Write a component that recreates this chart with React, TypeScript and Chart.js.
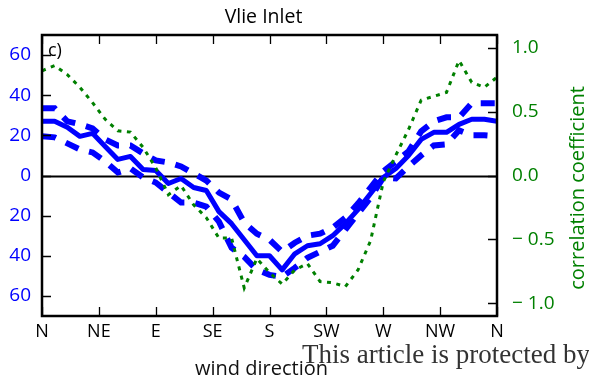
import React, { useEffect, useRef } from "react";
import { Chart, registerables } from "chart.js";

Chart.register(...registerables);

// Wind direction in degrees (N = 0 / 360), one sample every 10 degrees
const directionDeg = [
  0, 10, 20, 30, 40, 50, 60, 70, 80, 90, 100, 110, 120, 130, 140, 150, 160, 170, 180,
  190, 200, 210, 220, 230, 240, 250, 260, 270, 280, 290, 300, 310, 320, 330, 340, 350, 360,
];

// Compass labels for the bottom axis, one every 45 degrees
const compassLabels = ["N", "NE", "E", "SE", "S", "SW", "W", "NW", "N"];

// Response (left axis) – central estimate
const responseMean = [
  27, 27, 24, 19.5, 21, 14.5, 8, 9.5, 3, 2.5, -4, -1.5, -6, -7.5, -18, -24, -32, -40, -40,
  -47, -39, -35, -34, -30, -24, -17, -9, -1, 3.5, 10, 18, 21.5, 21.5, 25.5, 28, 28, 27,
];

// Response – upper bound
const responseUpper = [
  33.5, 33.5, 27, 25.5, 23.5, 18, 15, 15, 11, 7.5, 6.5, 4.5, 1, -2.5, -8.5, -12, -23.5, -29, -32,
  -38, -33.5, -30, -29, -26, -21, -14, -6, 2, 7, 12, 22, 27, 29, 29, 36, 36, 36,
];

// Response – lower bound
const responseLower = [
  19.5, 19, 16, 13, 11.5, 7, 1.5, 3.5, -1, -3.5, -8.5, -13.5, -13.5, -15.5, -23, -36, -40.5, -47, -49.5,
  -50.5, -46, -41, -38, -35, -27, -19, -11, -1, -1.5, 4.5, 10, 15, 15.5, 22.5, 20, 20, 19.5,
];

// Correlation coefficient (right axis)
const correlation = [
  0.82, 0.86, 0.79, 0.69, 0.57, 0.44, 0.35, 0.34, 0.22, 0.06, -0.15, -0.08, -0.23, -0.33, -0.49, -0.49,
  -0.88, -0.65, -0.76, -0.85, -0.74, -0.69, -0.83, -0.84, -0.87, -0.74, -0.51, -0.05, 0.16, 0.36, 0.59,
  0.62, 0.65, 0.9, 0.73, 0.69, 0.77,
];

const leftTicks = [-60, -40, -20, 0, 20, 40, 60];
const rightTicks = [-1, -0.5, 0, 0.5, 1];

const BLUE = "#0000ff";
const GREEN = "#008000";
const FONT = "'Open Sans', 'DejaVu Sans', sans-serif";

const pts = (vals: number[]) => directionDeg.map((d, i) => ({ x: d, y: vals[i] }));

// Zero line, frame, inward tick marks and the free text of the figure
const decorPlugin = {
  id: "decor",
  beforeDatasetsDraw(chart: any) {
    const { ctx, chartArea: a, scales } = chart;
    const y0 = Math.round(scales.y.getPixelForValue(0)) + 0.5;
    ctx.save();
    ctx.strokeStyle = "#000";
    ctx.lineWidth = 2;
    ctx.beginPath();
    ctx.moveTo(a.left, y0);
    ctx.lineTo(a.right, y0);
    ctx.stroke();
    ctx.restore();
  },
  afterDatasetsDraw(chart: any) {
    const { ctx, chartArea: a, scales } = chart;
    const tl = 9;
    ctx.save();
    ctx.strokeStyle = "#000";
    ctx.lineWidth = 1.3;
    ctx.beginPath();
    scales.x.ticks.forEach((t: any) => {
      const px = Math.round(scales.x.getPixelForValue(t.value)) + 0.5;
      ctx.moveTo(px, a.bottom);
      ctx.lineTo(px, a.bottom - tl);
      ctx.moveTo(px, a.top);
      ctx.lineTo(px, a.top + tl);
    });
    scales.y.ticks.forEach((t: any) => {
      const py = Math.round(scales.y.getPixelForValue(t.value)) + 0.5;
      ctx.moveTo(a.left, py);
      ctx.lineTo(a.left + tl, py);
    });
    scales.y2.ticks.forEach((t: any) => {
      const py = Math.round(scales.y2.getPixelForValue(t.value)) + 0.5;
      ctx.moveTo(a.right, py);
      ctx.lineTo(a.right - tl, py);
    });
    ctx.stroke();

    ctx.lineWidth = 2.5;
    ctx.strokeRect(a.left, a.top, a.right - a.left, a.bottom - a.top);

    const cx = (a.left + a.right) / 2;
    ctx.fillStyle = "#000";
    ctx.textBaseline = "alphabetic";
    ctx.textAlign = "center";
    ctx.font = `19.5px ${FONT}`;
    ctx.fillText("Vlie Inlet", cx - 6, 23);

    ctx.textAlign = "left";
    ctx.font = `18px ${FONT}`;
    ctx.fillText("c)", a.left + 6, a.top + 21);

    ctx.textAlign = "center";
    ctx.font = `20px ${FONT}`;
    ctx.fillStyle = "#111";
    ctx.fillText("wind direction", cx - 8, 375);

    ctx.save();
    ctx.translate(584, 188);
    ctx.rotate(-Math.PI / 2);
    ctx.fillStyle = GREEN;
    ctx.font = `20px ${FONT}`;
    ctx.fillText("correlation coefficient", 0, 0);
    ctx.restore();

    ctx.textAlign = "left";
    ctx.fillStyle = "#333";
    ctx.font = "27px 'Liberation Serif', serif";
    ctx.fillText("This article is protected by", 302, 363);
    ctx.restore();
  },
};

export default function App() {
  const canvasRef = useRef<HTMLCanvasElement | null>(null);

  useEffect(() => {
    if (!canvasRef.current) return;
    const chart = new Chart(canvasRef.current, {
      type: "line",
      data: {
        datasets: [
          {
            label: "correlation",
            data: pts(correlation),
            yAxisID: "y2",
            borderColor: GREEN,
            borderWidth: 3,
            borderDash: [4, 5.5],
            pointRadius: 0,
            fill: false,
            order: 0,
          },
          {
            label: "upper",
            data: pts(responseUpper),
            yAxisID: "y",
            borderColor: BLUE,
            borderWidth: 6,
            borderDash: [14, 11],
            pointRadius: 0,
            fill: false,
            order: 1,
          },
          {
            label: "lower",
            data: pts(responseLower),
            yAxisID: "y",
            borderColor: BLUE,
            borderWidth: 6,
            borderDash: [14, 11],
            pointRadius: 0,
            fill: false,
            order: 2,
          },
          {
            label: "mean",
            data: pts(responseMean),
            yAxisID: "y",
            borderColor: BLUE,
            borderWidth: 5,
            borderJoinStyle: "round",
            pointRadius: 0,
            fill: false,
            order: 3,
          },
        ],
      },
      options: {
        animation: false,
        responsive: false,
        events: [],
        layout: { padding: { top: 35, bottom: 0, left: 0, right: 0 } },
        plugins: { legend: { display: false }, tooltip: { enabled: false }, title: { display: false } },
        scales: {
          x: {
            type: "linear",
            min: 0,
            max: 360,
            afterBuildTicks: (s: any) => {
              s.ticks = compassLabels.map((_, i) => ({ value: i * 45 }));
            },
            afterFit: (s: any) => {
              s.height = 64;
            },
            grid: { display: false, drawTicks: false },
            border: { display: false },
            ticks: {
              autoSkip: false,
              maxRotation: 0,
              padding: 5,
              color: "#000",
              font: { family: FONT, size: 18 },
              callback: (v: any) => compassLabels[Math.round(Number(v) / 45)],
            },
          },
          y: {
            position: "left",
            min: -70,
            max: 70,
            afterBuildTicks: (s: any) => {
              s.ticks = leftTicks.map((v) => ({ value: v }));
            },
            afterFit: (s: any) => {
              s.width = 42;
            },
            grid: { display: false, drawTicks: false },
            border: { display: false },
            ticks: {
              padding: 11,
              color: BLUE,
              font: { family: FONT, size: 19 },
              callback: (v: any) => String(Math.abs(Number(v))),
            },
          },
          y2: {
            position: "right",
            min: -1.1,
            max: 1.1,
            afterBuildTicks: (s: any) => {
              s.ticks = rightTicks.map((v) => ({ value: v }));
            },
            afterFit: (s: any) => {
              s.width = 92;
            },
            grid: { display: false, drawTicks: false },
            border: { display: false },
            ticks: {
              padding: 15,
              color: GREEN,
              font: { family: FONT, size: 19 },
              callback: (v: any) => {
                const n = Number(v);
                return n < 0 ? "\u2212 " + Math.abs(n).toFixed(1) : n.toFixed(1);
              },
            },
          },
        },
      },
      plugins: [decorPlugin],
    } as any);
    return () => chart.destroy();
  }, []);

  return (
    <div style={{ position: "absolute", left: 0, top: 0, width: 589, height: 380, background: "#fff" }}>
      <canvas ref={canvasRef} width={589} height={380} />
    </div>
  );
}
